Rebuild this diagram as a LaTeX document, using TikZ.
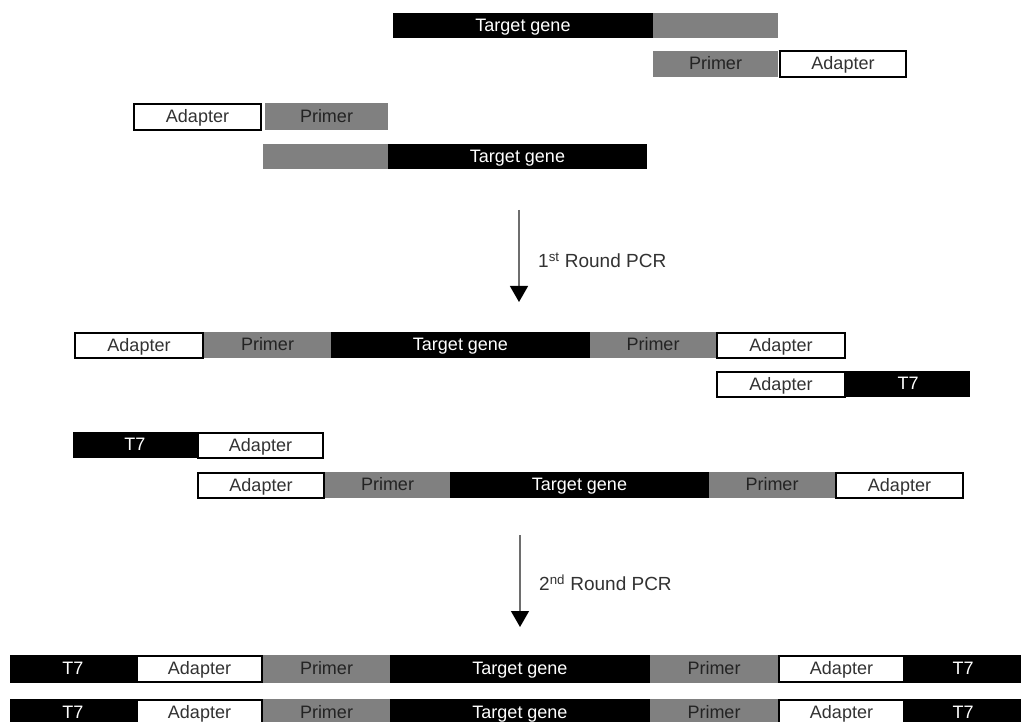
\documentclass[tikz,border=0pt]{standalone}
\usepackage{fontspec}
\setmainfont{Liberation Sans}
\usetikzlibrary{arrows.meta}
\definecolor{primergray}{RGB}{128,128,128}
\definecolor{txtdark}{RGB}{50,50,50}
\definecolor{prtxt}{RGB}{35,35,35}
\definecolor{shaftgray}{RGB}{110,110,110}
\newcommand{\segm}[7]{%
  \node[#1, minimum width={#4pt-#3pt}, minimum height={#6pt-#5pt}, anchor=north west] (#2) at (#3,#5) {#7};}
\begin{document}
\begin{tikzpicture}[x=1pt,y=-1pt,
  seg/.style={inner sep=0pt, outer sep=0pt, font=\fontsize{18}{20}\selectfont, text height=13pt, text depth=1.5pt},
  tg/.style={seg, fill=black, text=white},
  t7/.style={seg, fill=black, text=white},
  pr/.style={seg, fill=primergray, text=prtxt},
  ad/.style={seg, fill=white, draw=black, line width=2pt, text=txtdark},
  pcrarrow/.style={draw=shaftgray, line width=1.3pt, -{Triangle[width=18pt,length=16pt,color=black]}},
  pcrlabel/.style={anchor=west, text=txtdark, font=\fontsize{19}{22}\selectfont, inner sep=0pt}]
\useasboundingbox (0,0) rectangle (1021,722);
\fill[white] (0,0) rectangle (1021,722);
\clip (0,0) rectangle (1021,722);
% row 1
\segm{tg}{r1a}{393}{653}{13}{38}{Target gene}
\segm{pr}{r1b}{653}{778}{13}{38}{}
% row 2
\segm{pr}{r2a}{653}{778}{51}{77}{Primer}
\segm{ad}{r2b}{780}{906}{51}{77}{Adapter}
% row 3
\segm{ad}{r3a}{134}{261}{104}{130}{Adapter}
\segm{pr}{r3b}{265}{388}{103}{130}{Primer}
% row 4
\segm{pr}{r4a}{263}{388}{144}{169}{}
\segm{tg}{r4b}{388}{647}{144}{169}{Target gene}
% arrow 1
\coordinate (a1s) at (519,210);
\coordinate (a1e) at (519,302);
\draw[pcrarrow] (a1s) -- (a1e);
\node[pcrlabel] (l1) at (538,260) {1\textsuperscript{st} Round PCR};
% row 5
\segm{ad}{r5a}{75}{203}{333}{358}{Adapter}
\segm{pr}{r5b}{204}{331}{332}{358}{Primer}
\segm{tg}{r5c}{331}{590}{332}{358}{Target gene}
\segm{pr}{r5d}{590}{716}{332}{358}{Primer}
\segm{ad}{r5e}{717}{845}{333}{358}{Adapter}
% row 6
\segm{ad}{r6a}{717}{845}{372}{397}{Adapter}
\segm{t7}{r6b}{846}{970}{371}{397}{T7}
% row 7
\segm{t7}{r7a}{73}{197}{432}{458}{T7}
\segm{ad}{r7b}{198}{323}{433}{458}{Adapter}
% row 8
\segm{ad}{r8a}{198}{324}{473}{498}{Adapter}
\segm{pr}{r8b}{325}{450}{472}{498}{Primer}
\segm{tg}{r8c}{450}{709}{472}{498}{Target gene}
\segm{pr}{r8d}{709}{835}{472}{498}{Primer}
\segm{ad}{r8e}{836}{963}{473}{498}{Adapter}
% arrow 2
\coordinate (a2s) at (520,535);
\coordinate (a2e) at (520,627);
\draw[pcrarrow] (a2s) -- (a2e);
\node[pcrlabel] (l2) at (539,583) {2\textsuperscript{nd} Round PCR};
% row 9
\segm{t7}{r9a}{10}{136}{655}{683}{T7}
\segm{ad}{r9b}{137}{262}{656}{682}{Adapter}
\segm{pr}{r9c}{263}{390}{655}{683}{Primer}
\segm{tg}{r9d}{390}{650}{655}{683}{Target gene}
\segm{pr}{r9e}{650}{778}{655}{683}{Primer}
\segm{ad}{r9f}{779}{904}{656}{682}{Adapter}
\segm{t7}{r9g}{905}{1021}{655}{683}{T7}
% row 10
\segm{t7}{r10a}{10}{136}{699}{727}{T7}
\segm{ad}{r10b}{137}{262}{700}{726}{Adapter}
\segm{pr}{r10c}{263}{390}{699}{727}{Primer}
\segm{tg}{r10d}{390}{650}{699}{727}{Target gene}
\segm{pr}{r10e}{650}{778}{699}{727}{Primer}
\segm{ad}{r10f}{779}{904}{700}{726}{Adapter}
\segm{t7}{r10g}{905}{1021}{699}{727}{T7}
\end{tikzpicture}
\end{document}
